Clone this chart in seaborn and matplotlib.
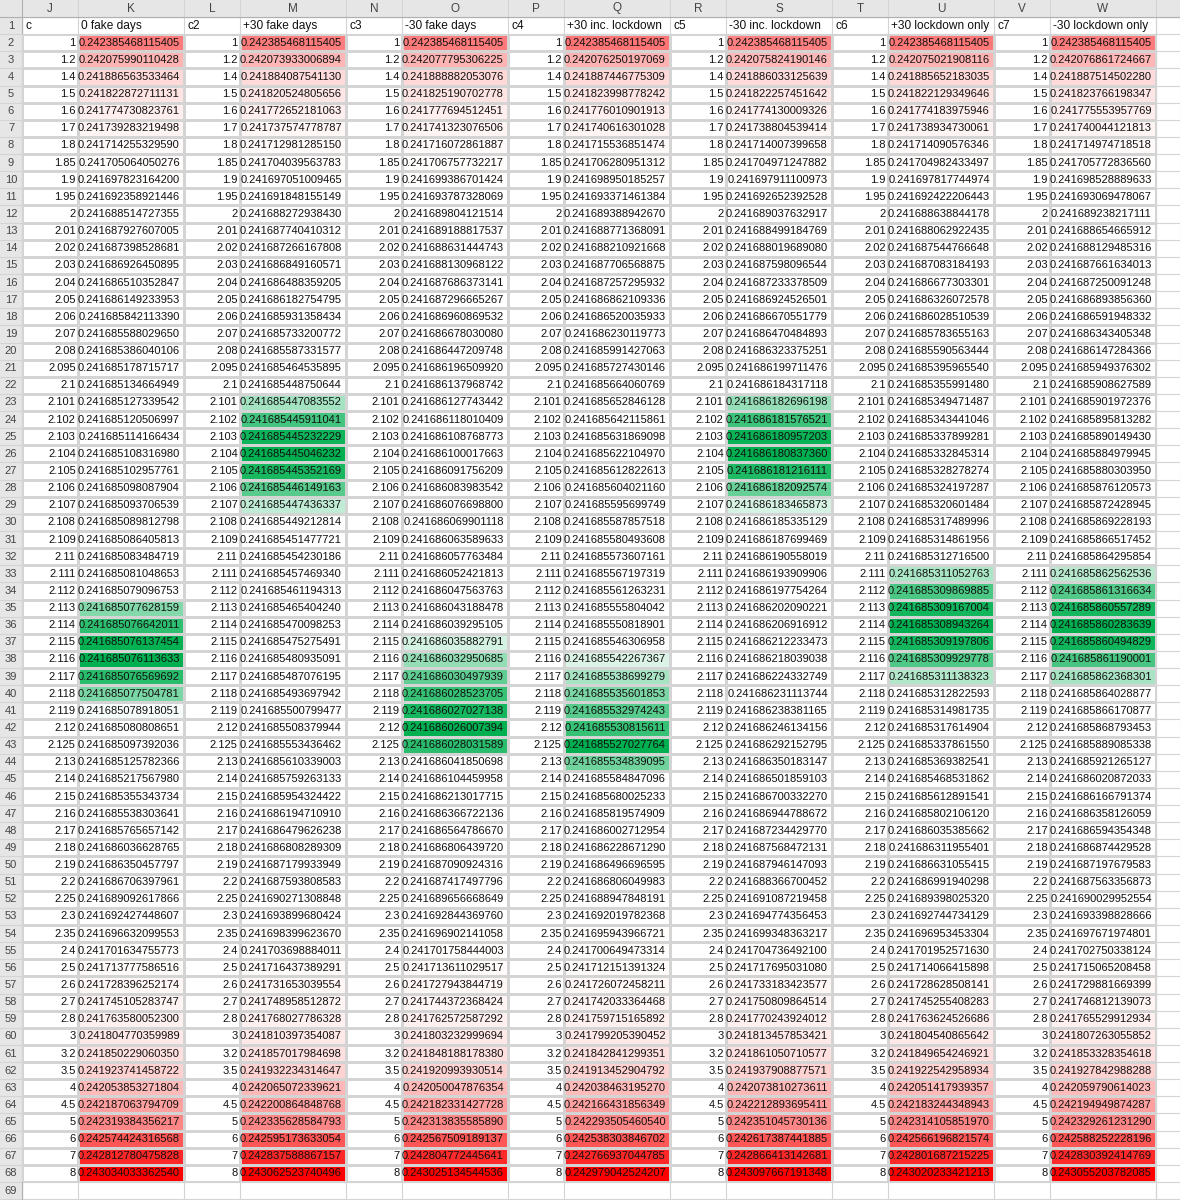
import numpy as np
import pandas as pd
import matplotlib.pyplot as plt
import seaborn as sns
from matplotlib.colors import LinearSegmentedColormap, ListedColormap, TwoSlopeNorm

c = [1, 1.2, 1.4, 1.5, 1.6, 1.7, 1.8, 1.85, 1.9, 1.95,
     2, 2.01, 2.02, 2.03, 2.04, 2.05, 2.06, 2.07, 2.08, 2.095, 2.1,
     2.101, 2.102, 2.103, 2.104, 2.105, 2.106, 2.107, 2.108, 2.109, 2.11,
     2.111, 2.112, 2.113, 2.114, 2.115, 2.116, 2.117, 2.118, 2.119, 2.12,
     2.125, 2.13, 2.14, 2.15, 2.16, 2.17, 2.18, 2.19, 2.2, 2.25, 2.3, 2.35,
     2.4, 2.5, 2.6, 2.7, 2.8, 3, 3.2, 3.5, 4, 4.5, 5, 6, 7, 8]

fake0 = [0.242385468115405, 0.242075990110428, 0.241886563533464, 0.241822872711131, 0.241774730823761,
         0.241739283219498, 0.241714255329590, 0.241705064050276, 0.241697823164200, 0.241692358921446,
         0.241688514727355, 0.241687927607005, 0.241687398528681, 0.241686926450895, 0.241686510352847,
         0.241686149233953, 0.241685842113390, 0.241685588029650, 0.241685386040106, 0.241685178715717,
         0.241685134664949, 0.241685127339542, 0.241685120506997, 0.241685114166434, 0.241685108316980,
         0.241685102957761, 0.241685098087904, 0.241685093706539, 0.241685089812798, 0.241685086405813,
         0.241685083484719, 0.241685081048653, 0.241685079096753, 0.241685077628159, 0.241685076642011,
         0.241685076137454, 0.241685076113633, 0.241685076569692, 0.241685077504781, 0.241685078918051,
         0.241685080808651, 0.241685097392036, 0.241685125782366, 0.241685217567980, 0.241685355343734,
         0.241685538303641, 0.241685765657142, 0.241686036628765, 0.241686350457797, 0.241686706397961,
         0.241689092617866, 0.241692427448607, 0.241696632099553, 0.241701634755773, 0.241713777586516,
         0.241728396252174, 0.241745105283747, 0.241763580052300, 0.241804770359989, 0.241850229060350,
         0.241923741458722, 0.242053853271804, 0.242187063794709, 0.242319384356217, 0.242574424316568,
         0.242812780475828, 0.243034033362540]

plus30_fake = [0.242385468115405, 0.242073933006894, 0.241884087541130, 0.241820524805656, 0.241772652181063,
               0.241737574778787, 0.241712981285150, 0.241704039563783, 0.241697051009465, 0.241691848155149,
               0.241688272938430, 0.241687740410312, 0.241687266167808, 0.241686849160571, 0.241686488359205,
               0.241686182754795, 0.241685931358434, 0.241685733200772, 0.241685587331577, 0.241685464535895,
               0.241685448750644, 0.241685447083552, 0.241685445911041, 0.241685445232229, 0.241685445046232,
               0.241685445352169, 0.241685446149163, 0.241685447436337, 0.241685449212814, 0.241685451477721,
               0.241685454230186, 0.241685457469340, 0.241685461194313, 0.241685465404240, 0.241685470098253,
               0.241685475275491, 0.241685480935091, 0.241685487076195, 0.241685493697942, 0.241685500799477,
               0.241685508379944, 0.241685553436462, 0.241685610339003, 0.241685759263133, 0.241685954324422,
               0.241686194710910, 0.241686479626238, 0.241686808289309, 0.241687179933949, 0.241687593808583,
               0.241690271308848, 0.241693899680424, 0.241698399623670, 0.241703698884011, 0.241716437389291,
               0.241731653039554, 0.241748958512872, 0.241768027786328, 0.241810397354087, 0.241857017984698,
               0.241932234314647, 0.242065072339621, 0.242200864848768, 0.242335628584793, 0.242595173633054,
               0.242837588867157, 0.243062523740496]

minus30_fake = [0.242385468115405, 0.242077795306225, 0.241888882053076, 0.241825190702778, 0.241777694512451,
                0.241741323076506, 0.241716072861887, 0.241706757732217, 0.241699386701424, 0.241693787328069,
                0.241689804121514, 0.241689188817537, 0.241688631444743, 0.241688130968122, 0.241687686373141,
                0.241687296665267, 0.241686960869532, 0.241686678030080, 0.241686447209748, 0.241686196509920,
                0.241686137968742, 0.241686127743442, 0.241686118010409, 0.241686108768773, 0.241686100017663,
                0.241686091756209, 0.241686083983542, 0.241686076698800, 0.241686069901118, 0.241686063589633,
                0.241686057763484, 0.241686052421813, 0.241686047563763, 0.241686043188478, 0.241686039295105,
                0.241686035882791, 0.241686032950685, 0.241686030497939, 0.241686028523705, 0.241686027027138,
                0.241686026007394, 0.241686028031589, 0.241686041850698, 0.241686104459958, 0.241686213017715,
                0.241686366722136, 0.241686564786670, 0.241686806439720, 0.241687090924316, 0.241687417497796,
                0.241689656668649, 0.241692844369760, 0.241696902141058, 0.241701758444003, 0.241713611029517,
                0.241727943844719, 0.241744372368424, 0.241762572587292, 0.241803232999694, 0.241848188178380,
                0.241920993930514, 0.242050047876354, 0.242182331427728, 0.242313835585890, 0.242567509189137,
                0.242804772445641, 0.243025134544536]

plus30_lock = [0.242385468115405, 0.242076250197069, 0.241887446775309, 0.241823998778242, 0.241776010901913,
               0.241740616301028, 0.241715536851474, 0.241706280951312, 0.241698950185257, 0.241693371461384,
               0.241689388942670, 0.241688771368091, 0.241688210921668, 0.241687706568875, 0.241687257295932,
               0.241686862109336, 0.241686520035933, 0.241686230119773, 0.241685991427063, 0.241685727430146,
               0.241685664060769, 0.241685652846128, 0.241685642115861, 0.241685631869098, 0.241685622104970,
               0.241685612822613, 0.241685604021160, 0.241685595699749, 0.241685587857518, 0.241685580493608,
               0.241685573607161, 0.241685567197319, 0.241685561263231, 0.241685555804042, 0.241685550818901,
               0.241685546306958, 0.241685542267367, 0.241685538699279, 0.241685535601853, 0.241685532974243,
               0.241685530815611, 0.241685527027764, 0.241685534839095, 0.241685584847096, 0.241685680025233,
               0.241685819574909, 0.241686002712954, 0.241686228671290, 0.241686496696595, 0.241686806049983,
               0.241688947848191, 0.241692019782368, 0.241695943966721, 0.241700649473314, 0.241712151391324,
               0.241726072458211, 0.241742033364468, 0.241759715165892, 0.241799205390452, 0.241842841299351,
               0.241913452904792, 0.242038463195270, 0.242166431856349, 0.242293505460540, 0.242538303846702,
               0.242766937044785, 0.242979042524207]

minus30_lock = [0.242385468115405, 0.242075824190146, 0.241886033125639, 0.241822257451642, 0.241774130009326,
                0.241738804539414, 0.241714007399658, 0.241704971247882, 0.241697911100973, 0.241692652392528,
                0.241689037632917, 0.241688499184769, 0.241688019689080, 0.241687598096544, 0.241687233378509,
                0.241686924526501, 0.241686670551779, 0.241686470484893, 0.241686323375251, 0.241686199711476,
                0.241686184317118, 0.241686182696198, 0.241686181576521, 0.241686180957203, 0.241686180837360,
                0.241686181216111, 0.241686182092574, 0.241686183465873, 0.241686185335129, 0.241686187699469,
                0.241686190558019, 0.241686193909906, 0.241686197754264, 0.241686202090221, 0.241686206916912,
                0.241686212233473, 0.241686218039038, 0.241686224332749, 0.241686231113744, 0.241686238381165,
                0.241686246134156, 0.241686292152795, 0.241686350183147, 0.241686501859103, 0.241686700332270,
                0.241686944788672, 0.241687234429770, 0.241687568472131, 0.241687946147093, 0.241688366700452,
                0.241691087219458, 0.241694774356453, 0.241699348363217, 0.241704736492100, 0.241717695031080,
                0.241733183423577, 0.241750809864514, 0.241770243924012, 0.241813457853421, 0.241861050710577,
                0.241937908877571, 0.242073810273611, 0.242212893695411, 0.242351045730136, 0.242617387441885,
                0.242866413142681, 0.243097667191348]

plus30_only = [0.242385468115405, 0.242075021908116, 0.241885652183035, 0.241822129349646, 0.241774183975946,
               0.241738934730061, 0.241714090576346, 0.241704982433497, 0.241697817744974, 0.241692422206443,
               0.241688638844178, 0.241688062922435, 0.241687544766648, 0.241687083184193, 0.241686677303301,
               0.241686326072578, 0.241686028510539, 0.241685783655163, 0.241685590563444, 0.241685395965540,
               0.241685355991480, 0.241685349471487, 0.241685343441046, 0.241685337899281, 0.241685332845314,
               0.241685328278274, 0.241685324197287, 0.241685320601484, 0.241685317489996, 0.241685314861956,
               0.241685312716500, 0.241685311052763, 0.241685309869885, 0.241685309167004, 0.241685308943264,
               0.241685309197806, 0.241685309929778, 0.241685311138323, 0.241685312822593, 0.241685314981735,
               0.241685317614904, 0.241685337861550, 0.241685369382541, 0.241685468531862, 0.241685612891541,
               0.241685802106120, 0.241686035385662, 0.241686311955401, 0.241686631055415, 0.241686991940298,
               0.241689398025320, 0.241692744734129, 0.241696953453304, 0.241701952571630, 0.241714066415898,
               0.241728628508141, 0.241745255408283, 0.241763624526686, 0.241804540865642, 0.241849654246921,
               0.241922542958934, 0.242051417939357, 0.242183244348943, 0.242314105851970, 0.242566196821574,
               0.242801687215225, 0.243020233421213]

minus30_only = [0.242385468115405, 0.242076861724667, 0.241887514502280, 0.241823766198347, 0.241775553957769,
                0.241740044121813, 0.241714974718518, 0.241705772836560, 0.241698528889633, 0.241693069478067,
                0.241689238217111, 0.241688654665912, 0.241688129485316, 0.241687661634013, 0.241687250091248,
                0.241686893856360, 0.241686591948332, 0.241686343405348, 0.241686147284366, 0.241685949376302,
                0.241685908627589, 0.241685901972376, 0.241685895813282, 0.241685890149430, 0.241685884979945,
                0.241685880303950, 0.241685876120573, 0.241685872428945, 0.241685869228193, 0.241685866517452,
                0.241685864295854, 0.241685862562536, 0.241685861316634, 0.241685860557289, 0.241685860283639,
                0.241685860494829, 0.241685861190001, 0.241685862368301, 0.241685864028877, 0.241685866170877,
                0.241685868793453, 0.241685889085338, 0.241685921265127, 0.241686020872033, 0.241686166791374,
                0.241686358126059, 0.241686594354348, 0.241686874429528, 0.241687197679583, 0.241687563356873,
                0.241690029952554, 0.241693398828666, 0.241697671974801, 0.241702750338124, 0.241715065208458,
                0.241729881669399, 0.241746812139073, 0.241765529912934, 0.241807263055852, 0.241853328354618,
                0.241927842988288, 0.242059790614023, 0.242194949874287, 0.242329261231290, 0.242588252228196,
                0.242830392414769, 0.243055203782085]

c_names = ['c', 'c2', 'c3', 'c4', 'c5', 'c6', 'c7']
series_names = ['0 fake days', '+30 fake days', '-30 fake days', '+30 inc. lockdown',
                '-30 inc. lockdown', '+30 lockdown only', '-30 lockdown only']
series = [fake0, plus30_fake, minus30_fake, plus30_lock, minus30_lock, plus30_only, minus30_only]
letters = list('JKLMNOPQRSTUVW')

# sheet geometry in pixels
W, H = 1180, 1200
head_h = 17
row_h = (1182 - head_h) / 68
rowhdr_w = 22
c_w, v_w = 56, 106
n = len(c)

FONT = 'Liberation Sans'
fs = 8.0
grid = '#d4d4d4'

cmap = LinearSegmentedColormap.from_list('excel', ['#00b050', '#ffffff', '#ff0000'])

fig = plt.figure(figsize=(W / 100, H / 100), dpi=100)
bg = fig.add_axes([0, 0, 1, 1])
bg.set_xlim(0, W)
bg.set_ylim(H, 0)
bg.axis('off')

# column boundaries
edges = [rowhdr_w]
for i in range(14):
    edges.append(edges[-1] + (c_w if i % 2 == 0 else v_w))

# header strip and row-number strip
bg.add_patch(plt.Rectangle((0, 0), W, head_h, color='#e6e6e6', zorder=0))
bg.add_patch(plt.Rectangle((0, 0), rowhdr_w, H, color='#e6e6e6', zorder=0))
for i, L in enumerate(letters):
    bg.text((edges[i] + edges[i + 1]) / 2, head_h / 2, L, ha='center', va='center',
            fontsize=fs + 0.5, family=FONT, color='#444444')
for r in range(69):
    y = head_h + r * row_h
    bg.text(rowhdr_w / 2, y + row_h / 2, str(r + 1), ha='center', va='center',
            fontsize=fs, family=FONT, color='#444444')
# gridlines
for x in edges + [1156, W]:
    bg.plot([x, x], [0, H], color=grid, lw=0.8, zorder=1)
for r in range(70):
    y = head_h + r * row_h
    bg.plot([0, W], [y, y], color=grid, lw=0.8, zorder=1)
bg.plot([0, W], [head_h, head_h], color='#b0b0b0', lw=0.8)
bg.plot([rowhdr_w, rowhdr_w], [0, H], color='#b0b0b0', lw=0.8)

# row 1 titles
for i in range(7):
    for j, name in enumerate([c_names[i], series_names[i]]):
        x0 = edges[2 * i + j]
        bg.text(x0 + 3, head_h + row_h / 2, name, ha='left', va='center',
                fontsize=fs + 0.6, family=FONT, color='#111111')

y_top = head_h + row_h
h_data = n * row_h


def sheet_col(values, x0, width, colored):
    ax = fig.add_axes([x0 / W, 1 - (y_top + h_data) / H, width / W, h_data / H])
    df = pd.DataFrame({'v': values})
    labels = np.array([['{:.15f}'.format(v) if colored else '{:g}'.format(v)] for v in values])
    if colored:
        arr = np.array(values)
        norm = TwoSlopeNorm(vmin=arr.min(), vcenter=np.percentile(arr, 10), vmax=arr.max())
        sns.heatmap(df, ax=ax, cmap=cmap, norm=norm, annot=labels, fmt='', cbar=False,
                    linewidths=0.8, linecolor=grid,
                    annot_kws={'fontsize': fs, 'family': FONT, 'color': '#111111'})
    else:
        sns.heatmap(df, ax=ax, cmap=ListedColormap(['white']), annot=labels, fmt='', cbar=False,
                    linewidths=0.8, linecolor=grid,
                    annot_kws={'fontsize': fs, 'family': FONT, 'color': '#111111'})
    for t in ax.texts:
        x, y = t.get_position()
        t.set_position((x + 0.46, y))
        t.set_ha('right')
    ax.set_xticks([])
    ax.set_yticks([])
    ax.set_xlabel('')
    ax.set_ylabel('')


for i in range(7):
    sheet_col(c, edges[2 * i], c_w, False)
    sheet_col(series[i], edges[2 * i + 1], v_w, True)

fig.savefig('out.png', dpi=100)
